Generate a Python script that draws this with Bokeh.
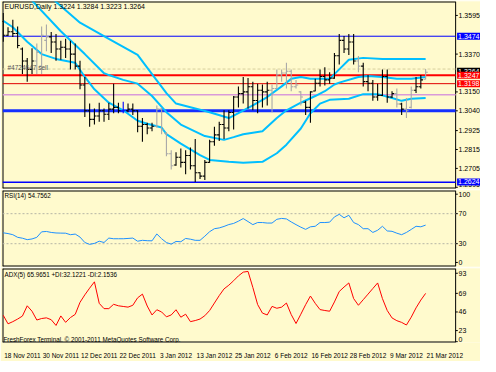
from bokeh.plotting import figure
from bokeh.layouts import column
from bokeh.models import Range1d, Label, FixedTicker, ColumnDataSource
from bokeh.embed import file_html
from bokeh.resources import INLINE

BG = "#FFFACD"
FONT = "Liberation Sans"

# ---------------- data ----------------
dates = ["18 Nov 2011", "30 Nov 2011", "12 Dec 2011", "22 Dec 2011", "3 Jan 2012", "13 Jan 2012",
         "25 Jan 2012", "6 Feb 2012", "16 Feb 2012", "28 Feb 2012", "9 Mar 2012", "21 Mar 2012"]
date_bar = [0, 8, 16, 24, 32, 40, 48, 56, 64, 72, 80, 88]

highs = [1.3609, 1.3526, 1.3570, 1.3531, 1.3409, 1.3348, 1.3404, 1.3431, 1.3531, 1.3542,
         1.3498, 1.3487, 1.3448, 1.3459, 1.3448, 1.3431, 1.3331, 1.3237, 1.3082, 1.3054,
         1.3087, 1.3054, 1.3087, 1.3198, 1.3087, 1.3093, 1.3082, 1.3082, 1.3043, 1.2998,
         1.2971, 1.2971, 1.3071, 1.3059, 1.2915, 1.2810, 1.2799, 1.2821, 1.2810, 1.2826,
         1.2876, 1.2682, 1.2754, 1.2871, 1.2948, 1.2976, 1.3043, 1.3043, 1.3126, 1.3181,
         1.3237, 1.3231, 1.3209, 1.3198, 1.3193, 1.3209, 1.3193, 1.3281, 1.3281, 1.3320,
         1.3281, 1.3220, 1.3154, 1.3098, 1.3154, 1.3226, 1.3281, 1.3293, 1.3265, 1.3376,
         1.3487, 1.3476, 1.3487, 1.3487, 1.3359, 1.3320, 1.3248, 1.3220, 1.3198, 1.3281,
         1.3281, 1.3154, 1.3170, 1.3087, 1.3115, 1.3181, 1.3237, 1.3248, 1.3284]
lows = [1.3442, 1.3476, 1.3470, 1.3404, 1.3254, 1.3209, 1.3254, 1.3254, 1.3254, 1.3387,
        1.3376, 1.3331, 1.3337, 1.3348, 1.3281, 1.3281, 1.3165, 1.3004, 1.2948, 1.2960,
        1.2976, 1.2976, 1.2987, 1.3026, 1.3026, 1.3026, 1.3032, 1.3015, 1.2915, 1.2860,
        1.2904, 1.2921, 1.2943, 1.2904, 1.2776, 1.2699, 1.2721, 1.2710, 1.2671, 1.2699,
        1.2626, 1.2643, 1.2638, 1.2738, 1.2837, 1.2865, 1.2876, 1.2921, 1.2932, 1.3059,
        1.3082, 1.3054, 1.3043, 1.3026, 1.3059, 1.3071, 1.3032, 1.3165, 1.3209, 1.3170,
        1.3154, 1.3170, 1.3071, 1.3015, 1.2971, 1.3154, 1.3181, 1.3187, 1.3198, 1.3226,
        1.3309, 1.3376, 1.3365, 1.3309, 1.3265, 1.3181, 1.3154, 1.3098, 1.3098, 1.3126,
        1.3087, 1.3115, 1.3059, 1.3015, 1.2998, 1.3054, 1.3143, 1.3170, 1.3223]
opens = [1.3560, 1.3480, 1.3500, 1.3490, 1.3400, 1.3330, 1.3280, 1.3330, 1.3300, 1.3450,
         1.3470, 1.3440, 1.3400, 1.3410, 1.3400, 1.3370, 1.3300, 1.3190, 1.3040, 1.2990,
         1.3010, 1.3040, 1.3020, 1.3050, 1.3060, 1.3040, 1.3040, 1.3050, 1.3040, 1.2950,
         1.2960, 1.2940, 1.2950, 1.3050, 1.2910, 1.2790, 1.2725, 1.2770, 1.2740, 1.2780,
         1.2720, 1.2680, 1.2660, 1.2740, 1.2860, 1.2900, 1.2960, 1.2940, 1.3030, 1.3120,
         1.3140, 1.3150, 1.3180, 1.3100, 1.3160, 1.3150, 1.3160, 1.3170, 1.3250, 1.3260,
         1.3270, 1.3180, 1.3150, 1.3090, 1.3060, 1.3155, 1.3200, 1.3240, 1.3220, 1.3230,
         1.3360, 1.3450, 1.3400, 1.3440, 1.3330, 1.3300, 1.3210, 1.3200, 1.3120, 1.3130,
         1.3240, 1.3120, 1.3140, 1.3080, 1.3050, 1.3060, 1.3160, 1.3180, 1.3224]
closes = [1.3480, 1.3500, 1.3490, 1.3420, 1.3330, 1.3280, 1.3330, 1.3380, 1.3480, 1.3470,
          1.3440, 1.3400, 1.3410, 1.3400, 1.3370, 1.3300, 1.3190, 1.3040, 1.2990, 1.3010,
          1.3040, 1.3020, 1.3050, 1.3060, 1.3040, 1.3040, 1.3050, 1.3040, 1.2950, 1.2960,
          1.2940, 1.2950, 1.3050, 1.2930, 1.2790, 1.2720, 1.2770, 1.2740, 1.2780, 1.2720,
          1.2680, 1.2660, 1.2740, 1.2860, 1.2900, 1.2960, 1.2940, 1.3030, 1.3120, 1.3140,
          1.3150, 1.3180, 1.3100, 1.3160, 1.3150, 1.3160, 1.3170, 1.3250, 1.3260, 1.3270,
          1.3180, 1.3190, 1.3120, 1.3060, 1.3150, 1.3200, 1.3240, 1.3220, 1.3230, 1.3360,
          1.3450, 1.3400, 1.3440, 1.3330, 1.3300, 1.3210, 1.3200, 1.3120, 1.3130, 1.3240,
          1.3120, 1.3140, 1.3080, 1.3050, 1.3040, 1.3160, 1.3180, 1.3220, 1.3264]
gray_bars = [7, 8, 9, 32, 33, 34, 35, 56, 57, 58, 59, 60, 61, 62, 74, 82, 84, 85, 88]
blue_bars = [25]

upper_bar = [10, 16, 22, 28, 31, 34, 36, 40, 43, 47, 49, 52, 55, 58, 60, 62, 64, 68, 70, 72, 75, 79, 84, 88]
upper_val = [1.3698, 1.3553, 1.3459, 1.3365, 1.3254, 1.3143, 1.3082, 1.3054, 1.3032, 1.2998,
             1.3026, 1.3071, 1.3120, 1.3182, 1.3226, 1.3237, 1.3226, 1.3226, 1.3281, 1.3337,
             1.3348, 1.3342, 1.3342, 1.3342]
mid_bar = [5, 6, 12, 17, 21, 22, 25, 28, 31, 34, 37, 42, 46, 48, 50, 54, 57, 59, 62, 65, 67, 69,
           70, 74, 76, 79, 82, 85, 88]
mid_val = [1.3714, 1.3681, 1.3503, 1.3370, 1.3259, 1.3248, 1.3220, 1.3198, 1.3126, 1.3032,
           1.2960, 1.2893, 1.2871, 1.2887, 1.2904, 1.2921, 1.2998, 1.3043, 1.3087, 1.3126,
           1.3154, 1.3193, 1.3204, 1.3237, 1.3243, 1.3237, 1.3226, 1.3226, 1.3237]
lower_bar = [0, 2, 5, 8, 11, 15, 17, 19, 22, 25, 28, 30, 33, 34, 37, 41, 43, 47, 50, 54, 57, 59,
             62, 64, 66, 68, 72, 75, 78, 81, 83, 85, 88]
lower_val = [1.3564, 1.3526, 1.3442, 1.3370, 1.3342, 1.3320, 1.3237, 1.3165, 1.3087, 1.3043,
             1.2982, 1.2965, 1.2943, 1.2904, 1.2849, 1.2782, 1.2754, 1.2743, 1.2738, 1.2743,
             1.2793, 1.2843, 1.2937, 1.3026, 1.3082, 1.3104, 1.3110, 1.3137, 1.3137, 1.3115,
             1.3098, 1.3110, 1.3115]

rsi = [44.5, 43.5, 42.0, 38.5, 37.3, 35.4, 36.3, 38.5, 45.8, 46.3,
       45.0, 44.3, 44.1, 44.0, 42.0, 42.8, 38.8, 31.6, 29.1, 30.4,
       33.3, 31.6, 37.5, 36.6, 36.6, 36.6, 37.0, 37.5, 33.3, 34.5,
       34.0, 33.8, 43.0, 36.6, 31.5, 29.4, 33.0, 32.6, 37.0, 36.0,
       34.5, 34.5, 40.0, 46.0, 50.0, 51.0, 53.0, 55.5, 57.0, 60.0,
       63.5, 59.5, 55.4, 58.2, 58.2, 57.5, 57.5, 62.5, 63.7, 63.0,
       59.0, 55.4, 52.0, 49.1, 52.5, 53.2, 58.2, 58.2, 58.7, 65.7,
       69.1, 64.5, 67.9, 58.2, 55.4, 50.0, 50.0, 45.0, 47.9, 53.2,
       47.0, 46.5, 44.0, 42.0, 45.0, 49.0, 53.2, 52.5, 54.76]
adx = [36.6, 25.1, 28.0, 31.5, 35.5, 49.3, 42.0, 30.2, 32.2, 33.1,
       30.6, 22.9, 35.7, 27.1, 33.5, 37.8, 54.0, 64.0, 73.0, 81.5,
       52.6, 45.5, 45.5, 51.3, 49.3, 48.4, 47.5, 50.0, 60.0, 65.0,
       49.0, 37.0, 44.0, 41.0, 34.5, 37.0, 44.0, 34.0, 38.0, 28.0,
       29.5, 31.5, 36.0, 43.0, 53.0, 63.0, 72.0, 77.0, 83.0, 89.5,
       94.5, 95.5, 74.0, 51.0, 39.5, 37.0, 48.5, 46.0, 47.5, 53.0,
       37.5, 25.5, 38.0, 50.8, 62.4, 52.6, 44.2, 43.0, 42.0, 54.5,
       68.5, 74.5, 80.0, 59.0, 50.0, 57.5, 65.0, 72.5, 80.0, 59.0,
       43.0, 33.0, 29.3, 27.0, 23.5, 34.0, 46.5, 57.0, 65.97]

price_ticks = [1.3595, 1.3370, 1.3150, 1.3040, 1.2925, 1.2815, 1.2705, 1.2595]
rsi_labels = ["100", "70", "30", "0"]
adx_labels = ["93", "69", "46", "23", "0"]

level_hi = 1.3474
level_red1 = 1.3247
level_red2 = 1.3198
level_pink = 1.3133
level_sup = 1.3040
level_lo = 1.2624
order_price = 1.3283
bid_price = 1.3264
rsi_levels = [70, 30]

title_main = "EURUSD,Daily  1.3224 1.3284 1.3223 1.3264"
title_rsi = "RSI(14) 54.7562"
title_adx = "ADX(5) 65.9651 +DI:32.1221 -DI:2.1536"
copyright_txt = "FreshForex Terminal. \u00a9 2001-2011 MetaQuotes Software Corp."
order_txt = "#4724647 sell"

# ---------------- layout ----------------
X0 = -0.15          # left edge of the chart area (bars)
XEND = 94.25        # right edge of the chart area = price-scale line
XMAX = 99.43        # right edge of the canvas (price labels live between XEND and XMAX)
xr = Range1d(X0, XMAX)


def make(fh, y0, y1, bottom=False):
    p = figure(frame_width=478, frame_height=fh, x_range=xr, y_range=Range1d(y0, y1),
               output_backend="svg", toolbar_location=None,
               x_axis_location="below" if bottom else None, y_axis_location=None,
               min_border_left=2, min_border_right=0, min_border_top=1,
               min_border_bottom=13 if bottom else 1,
               background_fill_color=BG, border_fill_color=BG, outline_line_color=None)
    p.grid.visible = False
    # panel frame: left, top, bottom edges and the price-scale line
    p.segment(x0=[X0, X0, X0], y0=[y0, y1, y0], x1=[X0, XEND, XEND], y1=[y1, y1, y0],
              line_color="black", line_width=2)
    p.segment(x0=[XEND], y0=[y0], x1=[XEND], y1=[y1], line_color="black", line_width=1)
    return p


def scale_labels(p, ticks, labels, label_pos=None):
    pos = label_pos if label_pos is not None else ticks
    p.segment(x0=[XEND] * len(ticks), y0=ticks, x1=[XEND + 0.45] * len(ticks), y1=ticks,
              line_color="black", line_width=1)
    p.text(x=[XEND + 0.6] * len(ticks), y=pos, text=labels, text_font={"value": FONT},
           text_font_size="7px", text_color="black", text_baseline="middle", text_align="left")


def txt(p, x, y, s, color="black", size="7px"):
    p.add_layout(Label(x=x, y=y, x_units="screen", y_units="data", text=s,
                       text_font=FONT, text_font_size=size, text_color=color,
                       text_baseline="middle", text_align="left"))


def box(p, y, s, fill):
    p.add_layout(Label(x=XEND + 0.3, y=y, x_units="data", y_units="data", text=s,
                       text_font=FONT, text_font_size="7px", text_color="white",
                       text_baseline="middle", text_align="left",
                       background_fill_color=fill, padding=1))


def hline(p, y, color, width, dash="solid"):
    p.segment(x0=[X0], y0=[y], x1=[XEND], y1=[y], line_color=color, line_width=width, line_dash=dash)


# ---- main price panel ----
P_LO, P_HI = 1.2588, 1.3676
p1 = make(187, P_LO, P_HI)
hline(p1, order_price, "#d8cf9e", 1, "3 2")
hline(p1, level_pink, "#d99ad9", 1.5)
hline(p1, level_hi, "#0000ff", 1)
hline(p1, level_lo, "#0000ff", 1.5)
hline(p1, level_sup, "#1530ff", 3)
hline(p1, level_red2, "#e00000", 1)
hline(p1, level_red1, "#ff0000", 2)

idx = list(range(len(highs)))
cols = ["#0000ff" if i in blue_bars else ("#a8a8a8" if i in gray_bars else "#000000") for i in idx]
src = ColumnDataSource(dict(x=idx, xl=[i - 0.45 for i in idx], xr=[i + 0.45 for i in idx],
                            h=highs, l=lows, o=opens, c=closes, col=cols))
p1.line(upper_bar, upper_val, line_color="#00BFFF", line_width=2)
p1.line(mid_bar, mid_val, line_color="#00BFFF", line_width=2)
p1.line(lower_bar, lower_val, line_color="#00BFFF", line_width=2)
p1.segment(x0="x", y0="l", x1="x", y1="h", line_color="col", line_width=1.1, source=src)
p1.segment(x0="xl", y0="o", x1="x", y1="o", line_color="col", line_width=1.1, source=src)
p1.segment(x0="x", y0="c", x1="xr", y1="c", line_color="col", line_width=1.1, source=src)

# the lowest scale label sits at the panel's bottom edge: keep its text inside the panel
price_label_pos = [max(t, P_LO + 0.0021) for t in price_ticks]
scale_labels(p1, price_ticks, [f"{t:.4f}" for t in price_ticks], price_label_pos)
txt(p1, 2, 1.3648, title_main)
txt(p1, 5, 1.3294, order_txt, color="#555555", size="6.5px")
box(p1, level_hi, f"{level_hi:.4f}", "#0000ff")
box(p1, bid_price + 0.0006, f"{bid_price:.4f}", "#000000")
box(p1, level_red1, f"{level_red1:.4f}", "#ff0000")
box(p1, level_red2, f"{level_red2:.4f}", "#ff0000")
box(p1, level_lo + 0.0002, f"{level_lo:.4f}", "#0000ff")

# ---- RSI panel ----
p2 = make(76, -0.4, 100.9)
for lv in rsi_levels:
    hline(p2, lv, "#b5b5a5", 1, "2 2")
p2.line(idx, rsi, line_color="#1E90FF", line_width=1)
scale_labels(p2, [96, 70, 30, 5], rsi_labels)
txt(p2, 2, 94, title_rsi, size="6.3px")

# ---- ADX panel ----
p3 = make(74, 0, 99.4, bottom=True)
p3.line(idx, adx, line_color="#ff0000", line_width=1)
scale_labels(p3, [93, 66, 41, 16, 1], adx_labels, [93, 66, 41, 16, 4])
txt(p3, 2, 91.7, title_adx, size="6.3px")
txt(p3, 1, 4.0, copyright_txt, size="6.3px")

xa = p3.xaxis[0]
xa.ticker = FixedTicker(ticks=[b + 4 for b in date_bar])
xa.major_label_overrides = {b + 4: d for b, d in zip(date_bar, dates)}
xa.major_label_text_font = FONT
xa.major_label_text_font_size = "6.5px"
xa.major_label_text_color = "black"
xa.major_tick_line_color = None
xa.minor_tick_line_color = None
xa.axis_line_color = None
xa.major_label_standoff = 3

layout = column(p1, p2, p3, spacing=0)
open("out.html", "w").write(file_html(layout, INLINE))
